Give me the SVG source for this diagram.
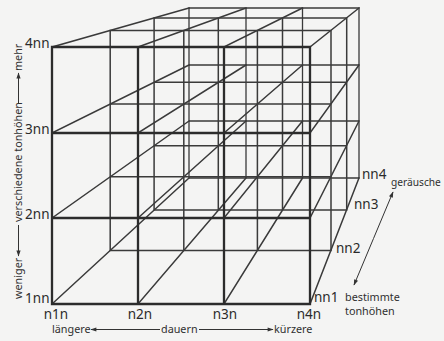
<svg xmlns="http://www.w3.org/2000/svg" width="444" height="341" viewBox="0 0 444 341">
<defs>
<marker id="ah" viewBox="0 0 10 10" refX="9" refY="5" markerWidth="7" markerHeight="6" markerUnits="userSpaceOnUse" orient="auto-start-reverse"><path d="M0,1.5 L10,5 L0,8.5 Z" fill="#333"/></marker>
<style>
.bg{fill:#f4f4f3}
.g{fill:none;stroke:#3a3a3a;stroke-linecap:square}
.back{stroke-width:1.3}
.mid{stroke-width:1.5}
.depth{stroke-width:1.5}
.front{stroke-width:2.3;stroke:#2c2c2c}
.lbl{font-family:"Noto Sans","Open Sans",sans-serif;font-size:13.5px;fill:#2a2a2a}
.cap{font-family:"Noto Sans","Open Sans",sans-serif;font-size:10.8px;fill:#303030}
.arr{stroke:#333;stroke-width:1;fill:none;marker-end:url(#ah)}
</style>
</defs>
<rect class="bg" x="0" y="0" width="444" height="341"/>

<g id="plane-nn4" class="g back">
<path d="M189 8H359M189 65H359M189 121H359M189 178H359M189 8V178M246 8V178M302.5 8V178M359 8V178"/>
</g>
<g id="plane-nn3" class="g mid">
<path d="M154.1 18.1H346.7M154.1 82.3H346.7M154.1 145.8H346.7M154.1 210.1H346.7M154.1 18.1V210.1M218.3 18.1V210.1M282.5 18.1V210.1M346.7 18.1V210.1"/>
</g>
<g id="plane-nn2" class="g mid">
<path d="M110.2 30.5H331M110.2 104.1H331M110.2 176.8H331M110.2 250.4H331M110.2 30.5V250.4M183.8 30.5V250.4M257.4 30.5V250.4M331 30.5V250.4"/>
</g>
<g id="depth-lines" class="g depth">
<path d="M52 47L189 8M138 47L246 8M224 47L302.5 8M310 47L359 8
M52 133L189 65M138 133L246 65M224 133L302.5 65M310 133L359 65
M52 218L189 121M138 218L246 121M224 218L302.5 121M310 218L359 121
M52 304L189 178M138 304L246 178M224 304L302.5 178M310 304L359 178"/>
</g>
<g id="plane-nn1" class="g front">
<path d="M52 47H310M52 133H310M52 218H310M52 304H310M52 47V304M138 47V304M224 47V304M310 47V304"/>
</g>

<g id="labels-y" class="lbl" text-anchor="end">
<text x="49.5" y="48">4nn</text>
<text x="49.5" y="134">3nn</text>
<text x="49.5" y="219">2nn</text>
<text x="49.5" y="303">1nn</text>
</g>
<g id="labels-x" class="lbl" text-anchor="middle">
<text x="56" y="319">n1n</text>
<text x="140" y="319">n2n</text>
<text x="225" y="319">n3n</text>
<text x="309" y="319">n4n</text>
</g>
<g id="labels-z" class="lbl">
<text x="314" y="302">nn1</text>
<text x="336" y="253">nn2</text>
<text x="354" y="209">nn3</text>
<text x="362" y="179">nn4</text>
</g>
<g id="captions" class="cap">
<text x="52" y="333">längere</text>
<text x="161" y="333">dauern</text>
<text x="274" y="333">kürzere</text>
<text x="345" y="301">bestimmte</text>
<text x="345" y="315">tonhöhen</text>
<text x="391" y="186" style="font-size:10.2px">geräusche</text>
<text transform="translate(22,299) rotate(-90)">weniger</text>
<text transform="translate(22,222) rotate(-90)">verschiedene tonhöhen</text>
<text transform="translate(22,71) rotate(-90)">mehr</text>
</g>
<g id="connectors">
<line class="arr" x1="160" y1="329.5" x2="91" y2="329.5"/>
<line class="arr" x1="199" y1="329.5" x2="273" y2="329.5"/>
<line class="arr" x1="18.5" y1="225" x2="18.5" y2="256"/>
<line class="arr" x1="18.5" y1="104" x2="18.5" y2="73"/>
<line class="arr" x1="373.5" y1="238.5" x2="393" y2="192"/>
<line class="arr" x1="373.5" y1="238.5" x2="354" y2="285"/>
</g>
</svg>
